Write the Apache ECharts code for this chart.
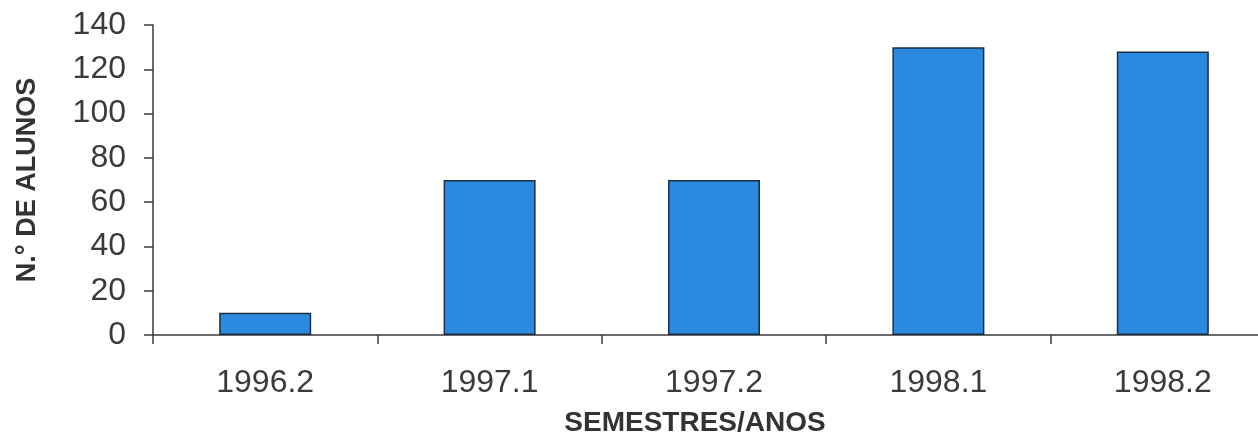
<!DOCTYPE html>
<html>
<head>
<meta charset="utf-8">
<script src="https://cdn.jsdelivr.net/npm/echarts@6/dist/echarts.min.js"></script>
<style>
html,body{margin:0;padding:0;background:#fff;}
#chart{width:1258px;height:438px;}
</style>
</head>
<body>
<div id="chart"></div>
<script>
const categories = ['1996.2', '1997.1', '1997.2', '1998.1', '1998.2'];
const alunos = [10, 70, 70, 130, 128];
const yTicks = [0, 20, 40, 60, 80, 100, 120, 140];
const xAxisTitle = 'SEMESTRES/ANOS';
const yAxisTitle = 'N.° DE ALUNOS';

const chart = echarts.init(document.getElementById('chart'), null, {renderer: 'canvas'});
const font = '"Liberation Sans", Arial, sans-serif';
chart.setOption({
  animation: false,
  backgroundColor: '#ffffff',
  grid: {left: 153, top: 25, width: 1122, height: 310, containLabel: false, outerBoundsMode: 'none'},
  xAxis: {
    type: 'category',
    data: categories,
    name: xAxisTitle,
    nameLocation: 'middle',
    nameGap: 74,
    nameTextStyle: {fontFamily: font, fontSize: 28, fontWeight: 'bold', color: '#333', padding: [0, 38, 0, 0]},
    axisLine: {lineStyle: {color: '#3a3a3a', width: 1.5}},
    axisTick: {show: true, length: 9, lineStyle: {color: '#3a3a3a', width: 1.5}},
    axisLabel: {fontFamily: font, fontSize: 32, color: '#3a3a3a', margin: 32}
  },
  yAxis: {
    type: 'value',
    min: yTicks[0],
    max: yTicks[yTicks.length - 1],
    interval: yTicks[1] - yTicks[0],
    name: yAxisTitle,
    nameLocation: 'middle',
    nameGap: 112,
    nameRotate: 90,
    nameTextStyle: {fontFamily: font, fontSize: 27, fontWeight: 'bold', color: '#333'},
    axisLine: {show: true, lineStyle: {color: '#3a3a3a', width: 1.5}},
    axisTick: {show: true, length: 9, lineStyle: {color: '#3a3a3a', width: 1.5}},
    axisLabel: {fontFamily: font, fontSize: 32, color: '#3a3a3a', margin: 27},
    splitLine: {show: false}
  },
  series: [{
    type: 'bar',
    data: alunos,
    barWidth: '41%',
    itemStyle: {color: '#2b8ae0', borderColor: '#1c2e44', borderWidth: 1.5}
  }]
});
</script>
</body>
</html>
